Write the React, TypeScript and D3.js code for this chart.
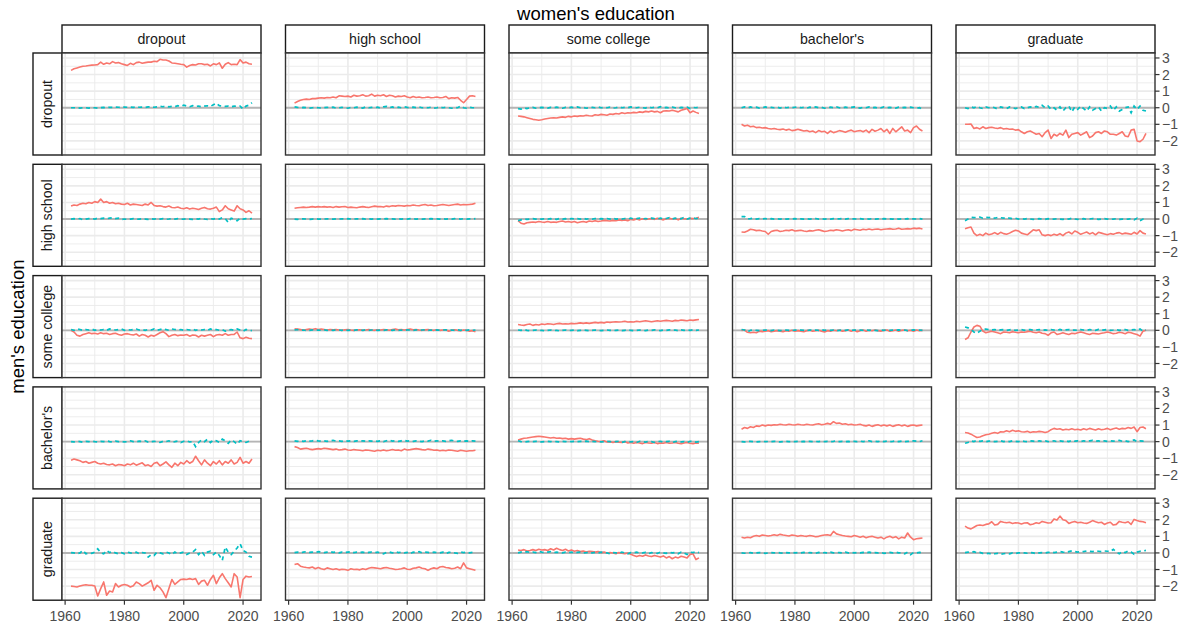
import React from 'react';
import * as d3 from 'd3';

const years = d3.range(1962, 2024);
const womenLevels = ['dropout', 'high school', 'some college', "bachelor's", 'graduate'];
const menLevels = ['dropout', 'high school', 'some college', "bachelor's", 'graduate'];
const xTicks = [1960, 1980, 2000, 2020];
const xMinor = [1970, 1990, 2010];
const yTicks = [-2, -1, 0, 1, 2, 3];
const yMinor = [-2.5, -1.5, -0.5, 0.5, 1.5, 2.5];

// Row 1: men dropout
const red_m1_w1 = [2.25,2.35,2.4,2.45,2.5,2.52,2.55,2.57,2.58,2.6,
 2.75,2.62,2.7,2.65,2.78,2.7,2.72,2.65,2.6,2.55,
 2.68,2.6,2.72,2.75,2.68,2.72,2.75,2.75,2.8,2.78,
 2.92,2.88,2.88,2.82,2.7,2.68,2.65,2.62,2.6,2.45,
 2.55,2.6,2.58,2.65,2.65,2.6,2.62,2.52,2.65,2.6,
 2.7,2.38,2.62,2.72,2.6,2.62,2.6,2.9,2.7,2.75,
 2.65,2.62];
const teal_m1_w1 = [0,0,0,-0.02,0,0,-0.02,0,0,-0.03,
 0,0.02,0,0.03,0.02,0.04,0.03,0.02,0.04,0.03,
 0.04,0.02,0.05,0.03,0.04,0.02,0.05,0.06,0.03,0.05,
 0.08,0.06,0.1,0.05,0.08,0.06,0.12,0.08,0.15,0.1,
 0.06,0.12,0.08,0.1,0.05,0.1,0.12,0.08,0.18,0.28,
 0.12,0.1,0.08,0.1,0.06,0.1,0.08,0.1,-0.08,0.1,
 0.15,0.3];
const red_m1_w2 = [0.28,0.38,0.45,0.5,0.52,0.5,0.55,0.55,0.58,0.6,
 0.58,0.62,0.6,0.65,0.6,0.72,0.7,0.68,0.7,0.65,
 0.75,0.7,0.72,0.78,0.7,0.72,0.82,0.7,0.75,0.72,
 0.78,0.68,0.75,0.72,0.65,0.7,0.68,0.72,0.65,0.6,
 0.68,0.62,0.65,0.6,0.62,0.65,0.6,0.62,0.65,0.6,
 0.62,0.68,0.55,0.6,0.58,0.62,0.45,0.3,0.5,0.7,
 0.72,0.68];
const teal_m1_w2 = [0.05,0.02,0,0.02,0,-0.02,0,0.02,0,-0.02,
 0,0.02,0,0.03,-0.02,0,0.02,0,-0.03,0.02,
 0,0.03,0,-0.02,0.05,0,0.02,0,0.03,-0.02,
 0.05,0.08,0,0.05,-0.02,0.03,0,0.05,0.02,0,
 0.03,0,0.05,0,0.02,0,0.03,-0.02,0,0.05,
 0,0.02,0,-0.03,0.02,0,0.1,0,-0.03,0.02,
 0,0];
const red_m1_w3 = [-0.5,-0.52,-0.55,-0.6,-0.65,-0.7,-0.72,-0.75,-0.72,-0.68,
 -0.65,-0.62,-0.6,-0.62,-0.58,-0.55,-0.58,-0.52,-0.55,-0.5,
 -0.52,-0.48,-0.5,-0.45,-0.48,-0.5,-0.42,-0.45,-0.4,-0.42,
 -0.45,-0.38,-0.4,-0.35,-0.38,-0.3,-0.35,-0.3,-0.32,-0.28,
 -0.3,-0.25,-0.28,-0.22,-0.25,-0.2,-0.25,-0.22,-0.3,-0.2,
 -0.18,-0.2,-0.15,-0.2,-0.25,-0.15,-0.1,-0.05,-0.3,-0.2,
 -0.28,-0.35];
const teal_m1_w3 = [-0.05,-0.08,0,-0.05,0,0.02,-0.03,0,0.02,0,
 -0.02,0.02,0,0.03,0,-0.03,0.02,0,0.03,0,
 0.05,0,0.02,-0.03,0,0.02,0,0.05,0,0.02,
 0,0.03,-0.02,0,0.05,0,0.02,0,0.05,0.02,
 0,0.03,0,-0.02,0.05,0,0.02,0,0.06,0,
 0.02,-0.02,0.03,0,-0.03,0.02,0,0.03,-0.05,0.02,
 0,0.03];
const red_m1_w4 = [-1.0,-1.1,-1.05,-1.15,-1.12,-1.2,-1.18,-1.22,-1.2,-1.25,
 -1.28,-1.25,-1.3,-1.32,-1.28,-1.35,-1.3,-1.38,-1.35,-1.3,
 -1.35,-1.4,-1.38,-1.45,-1.4,-1.5,-1.38,-1.45,-1.42,-1.55,
 -1.4,-1.5,-1.45,-1.38,-1.42,-1.48,-1.4,-1.35,-1.45,-1.4,
 -1.38,-1.45,-1.35,-1.5,-1.3,-1.42,-1.35,-1.25,-1.45,-1.3,
 -1.55,-1.25,-1.45,-1.3,-1.15,-1.4,-1.35,-1.5,-1.2,-1.1,
 -1.3,-1.4];
const teal_m1_w4 = [0,0.05,-0.02,0.05,0,0.03,-0.02,0,0.05,0,
 0.02,0,0.03,-0.02,0.05,0,0.02,0,0.03,0.05,
 0,0.02,-0.02,0.03,0,0.05,0,0.02,-0.03,0,
 0.03,0,0.05,0,-0.02,0.03,0,0.02,0.05,0,
 -0.02,0.03,0,0.05,0,0.02,-0.03,0,0.05,0,
 0.02,0,-0.02,0.03,0,0.02,0,0.03,0,-0.02,
 0,-0.1];
const red_m1_w5 = [-1.0,-1.0,-0.98,-1.25,-1.2,-1.28,-1.15,-1.25,-1.2,-1.18,
 -1.22,-1.25,-1.2,-1.28,-1.25,-1.3,-1.28,-1.35,-1.32,-1.45,
 -1.55,-1.45,-1.4,-1.5,-1.6,-1.55,-1.75,-1.5,-1.35,-1.85,
 -1.6,-1.7,-1.55,-1.65,-1.35,-1.8,-1.6,-1.55,-1.5,-1.65,
 -1.55,-1.45,-1.8,-1.7,-1.5,-1.45,-1.55,-1.4,-1.45,-1.6,
 -1.6,-1.65,-1.55,-1.45,-1.7,-1.75,-1.35,-1.3,-2.0,-2.05,
 -1.9,-1.55];
const teal_m1_w5 = [0,-0.05,0.05,0,0.08,0,-0.05,0.05,0,0.05,
 0,-0.08,0.05,0,-0.05,0.05,0,-0.05,0,0.05,
 -0.05,0,0.05,0,0.08,0.02,0.15,0,0.1,-0.1,
 0,-0.15,0.05,-0.2,0,0.1,-0.25,0.05,-0.1,0.1,
 -0.05,-0.2,0.05,-0.15,-0.05,0.05,-0.2,0,-0.05,0.1,
 -0.15,0.05,-0.2,-0.1,0,0.05,-0.3,0.1,-0.1,0.1,
 -0.15,-0.2];

// Row 2: men high school
const red_m2_w1 = [0.78,0.85,0.82,0.9,0.95,0.92,1.0,0.95,1.05,1.0,
 1.2,1.0,1.05,0.95,1.0,0.92,0.95,0.9,0.88,0.95,
 0.85,0.9,0.88,0.85,0.82,0.9,0.85,1.0,0.82,0.78,
 0.8,0.75,0.72,0.78,0.7,0.68,0.72,0.65,0.62,0.68,
 0.6,0.65,0.62,0.58,0.65,0.7,0.62,0.6,0.65,0.72,
 0.45,0.55,0.8,0.62,0.55,0.48,0.8,0.62,0.55,0.4,
 0.5,0.35];
const teal_m2_w1 = [0,0.02,0,0.03,-0.05,0,0.02,0.03,0,0.05,
 0.03,0.05,0.02,0.05,0.08,0.03,0.05,-0.03,0,-0.02,
 0,0.02,-0.02,0,0.02,0,-0.02,0.02,0,0.03,
 0,0.02,-0.02,0,0.03,0,0.02,-0.02,0,0.02,
 0,-0.02,0.02,0,0.05,0,-0.02,0.02,0,0.05,
 0,0.08,0.02,-0.2,0.05,0,-0.1,0.05,0,0.02,
 0,0.03];
const red_m2_w2 = [0.65,0.68,0.7,0.72,0.7,0.72,0.75,0.72,0.75,0.73,
 0.75,0.72,0.74,0.7,0.75,0.72,0.74,0.76,0.7,0.72,
 0.7,0.68,0.72,0.75,0.72,0.7,0.74,0.78,0.75,0.76,
 0.72,0.78,0.75,0.8,0.78,0.82,0.8,0.78,0.82,0.8,
 0.85,0.82,0.8,0.85,0.88,0.82,0.85,0.8,0.82,0.85,
 0.88,0.85,0.82,0.85,0.88,0.9,0.85,0.88,0.86,0.88,
 0.9,0.95];
const teal_m2_w2 = [0,-0.02,0,0.01,0,-0.02,0,0.01,0,-0.01,
 0,0.01,0,-0.01,0.01,0,0.01,0,0.02,0,
 0,0.01,0,0.02,0,0.01,0,0.02,0,0.01,
 0,0.02,0,0.01,0,0.02,0,0.01,0,0.02,
 0.01,0,0.02,0,0.01,0,0.02,0,0.01,0,
 0.02,0,0.01,0,0.02,0.01,0,0.02,0,0.01,
 0,0.02];
const red_m2_w3 = [-0.1,-0.25,-0.3,-0.22,-0.2,-0.18,-0.2,-0.15,-0.18,-0.2,
 -0.15,-0.2,-0.18,-0.2,-0.15,-0.12,-0.18,-0.15,-0.2,-0.15,
 -0.22,-0.18,-0.15,-0.2,-0.12,-0.15,-0.1,-0.15,-0.12,-0.08,
 -0.1,-0.12,-0.08,-0.1,-0.05,-0.08,-0.05,-0.1,-0.02,-0.05,
 0,-0.05,0.02,-0.03,0,0.03,-0.02,0.05,0,-0.05,
 0.02,0.05,0,0.03,-0.05,0.05,0.02,0,0.05,0.03,
 0.05,0.1];
const teal_m2_w3 = [-0.1,-0.05,0,-0.02,0,0.02,0,-0.02,0,0.02,
 0,0.02,0,-0.02,0.03,0,0.02,0,0.03,0,
 0.02,0,0.05,0,0.02,0,0.03,0,0.02,0,
 0.03,0,0.05,0,0.02,0,0.03,0,0.05,0,
 0.02,0.05,0,0.03,0,0.05,0.02,0,0.05,0,
 0.03,0.08,0,0.05,0,0.02,0.1,0,0.05,0.08,
 0.02,0.08];
const red_m2_w4 = [-0.78,-0.8,-0.72,-0.62,-0.65,-0.7,-0.68,-0.72,-0.75,-0.92,
 -0.75,-0.7,-0.68,-0.75,-0.72,-0.68,-0.7,-0.65,-0.72,-0.7,
 -0.68,-0.72,-0.75,-0.7,-0.72,-0.68,-0.65,-0.7,-0.75,-0.72,
 -0.68,-0.7,-0.65,-0.68,-0.72,-0.68,-0.65,-0.7,-0.62,-0.65,
 -0.68,-0.62,-0.65,-0.6,-0.65,-0.62,-0.6,-0.65,-0.62,-0.6,
 -0.58,-0.62,-0.6,-0.55,-0.62,-0.6,-0.58,-0.6,-0.55,-0.58,
 -0.55,-0.6];
const teal_m2_w4 = [0.15,0.15,0,0.02,0.05,0,0.02,0,0.03,0,
 0.02,0,0.01,0,0.02,0,0.01,0,0.02,0,
 0.01,0,0.02,0,0.01,0.03,0,0.02,0,0.01,
 0,0.02,0,0.01,0.03,0,0.02,0,0.01,0,
 0.02,0,0.01,0,0.02,0,0.01,0,0.02,0,
 0.01,0,0.02,0,0.01,0,0.02,0,0.01,0,
 0.02,0];
const red_m2_w5 = [-0.58,-0.52,-0.48,-0.85,-1.0,-0.92,-1.0,-0.85,-0.95,-0.9,
 -0.82,-0.92,-0.8,-0.88,-0.92,-0.85,-0.75,-0.68,-0.72,-0.85,
 -0.9,-0.95,-0.8,-0.65,-0.7,-0.65,-0.95,-1.0,-0.95,-1.0,
 -0.92,-0.98,-0.88,-1.0,-0.85,-0.78,-0.9,-0.72,-0.8,-0.92,
 -0.85,-0.78,-0.9,-0.82,-0.95,-0.8,-0.85,-0.9,-0.95,-0.88,
 -0.92,-0.85,-0.82,-0.9,-0.85,-0.88,-0.92,-0.8,-0.9,-0.7,
 -0.85,-0.9];
const teal_m2_w5 = [-0.1,0,0.1,0.08,0.1,0.12,0.05,0.1,0.08,0.12,
 0.05,0.1,0.08,0.05,0.1,0.05,0.02,0.05,0,0.02,
 0,0.03,0,-0.02,0,0.02,0,-0.02,0.02,0,
 0,0.02,0,-0.02,0.02,0,0.05,0,-0.02,0,
 0.02,-0.02,0,0.03,0,-0.02,0,0.02,0,-0.03,
 0,0.02,-0.02,0,-0.03,0,0.02,-0.05,0.05,-0.1,
 0,0.02];

// Row 3: men some college
const red_m3_w1 = [0,-0.1,-0.3,-0.35,-0.25,-0.2,-0.15,-0.2,-0.18,-0.22,
 -0.15,-0.2,-0.18,-0.25,-0.2,-0.18,-0.25,-0.3,-0.22,-0.2,
 -0.25,-0.28,-0.22,-0.35,-0.25,-0.3,-0.4,-0.3,-0.35,-0.25,
 -0.15,-0.08,-0.2,-0.38,-0.3,-0.25,-0.32,-0.28,-0.3,-0.25,
 -0.35,-0.28,-0.3,-0.4,-0.3,-0.35,-0.3,-0.25,-0.38,-0.28,
 -0.25,-0.3,-0.2,-0.3,-0.25,-0.25,-0.1,-0.45,-0.5,-0.42,
 -0.48,-0.5];
const teal_m3_w1 = [0.05,0,0.08,0.05,0,0.05,0.02,0.08,0,0.05,
 0.02,0.05,0,0.08,0.05,0.02,0.05,0.08,0,0.05,
 0.02,0.05,0.08,0.02,0.05,0,0.05,0.02,0.08,0,
 0.05,0.1,0.05,0,0.08,0.05,0.02,0.05,0,0.05,
 0.02,0.08,0,0.05,0.02,0.05,0,0.08,0.02,0.05,
 0,0.05,-0.05,0.02,0.05,0,0.08,0.02,-0.05,0.05,
 0,-0.02];
const red_m3_w2 = [0.1,0.08,0.05,0,0.05,0.08,0.05,0.1,0.05,0.08,
 0.05,0.02,0.05,0.03,0.05,0.02,0,0.03,0.05,0.02,
 0,0.02,0.03,0,0.02,0.05,0.02,0,0.03,0.02,
 0.05,0.03,0,0.05,0.08,0.03,0.05,0.02,0.05,0.08,
 0.03,0.05,0.02,0,0.03,0.05,0.02,0,0.03,0,
 0.02,0.03,-0.05,0,0.03,0,-0.02,0.02,0,-0.05,
 -0.02,-0.08];
const teal_m3_w2 = [0.02,0.05,0,0.02,-0.02,0,0.03,0,0.02,0,
 0.03,0,0.02,0,0.03,0.02,0,0.03,0,0.02,
 0,0.03,0.02,0,0.03,0,0.02,0.03,0,0.02,
 0,0.03,0.02,0,0.03,0,0.02,0,0.03,0.02,
 0,0.03,0,0.02,0.03,0,0.02,0,0.03,0,
 0.02,0.03,0,0.02,0,0.03,0,0.02,0,0.03,
 0,0.02];
const red_m3_w3 = [0.35,0.32,0.3,0.35,0.38,0.3,0.35,0.32,0.38,0.35,
 0.4,0.38,0.35,0.4,0.42,0.38,0.4,0.38,0.42,0.4,
 0.42,0.45,0.42,0.45,0.42,0.45,0.48,0.45,0.48,0.45,
 0.5,0.48,0.5,0.52,0.5,0.52,0.55,0.5,0.52,0.5,
 0.55,0.52,0.55,0.58,0.55,0.52,0.55,0.58,0.55,0.58,
 0.6,0.58,0.55,0.6,0.58,0.62,0.6,0.58,0.62,0.6,
 0.63,0.65];
const teal_m3_w3 = [0.02,0,0.05,0,-0.02,0,0.02,-0.02,0,-0.03,
 0,0.02,-0.02,0,-0.03,0,0.02,-0.02,0,0.02,
 -0.02,0,0.02,0,-0.02,0,0.02,0,-0.02,0,
 0.02,0,-0.02,0,0.02,-0.02,0,0.02,0,-0.02,
 0,0.02,0,-0.02,0.02,0,0.03,0,-0.02,0.02,
 0,0.03,0,0.02,-0.02,0.03,0,0.02,0,0.03,
 0,0.02];
const red_m3_w4 = [0,0.02,-0.12,-0.15,-0.12,-0.15,-0.05,-0.08,-0.05,-0.02,
 -0.08,-0.05,-0.02,-0.05,-0.08,-0.03,-0.05,0,-0.05,-0.02,
 -0.05,-0.08,-0.02,0,-0.05,-0.03,0,-0.05,-0.1,-0.02,
 -0.05,0,-0.03,0.02,-0.05,-0.02,0.02,-0.05,0,-0.08,
 -0.02,0.02,-0.05,0,-0.03,0.02,-0.02,-0.05,0,0.02,
 -0.05,-0.02,0.02,-0.05,0,0.02,-0.03,0,-0.05,0.02,
 -0.02,0];
const teal_m3_w4 = [0.05,0.02,-0.1,0,0.02,0,-0.02,0,0.02,0,
 -0.02,0.02,0,-0.02,0,0.02,0,-0.02,0.02,0,
 0.02,0,-0.02,0.02,0,0.02,0,0.03,0,0.02,
 0,0.02,-0.02,0,0.02,0,0.03,0,0.02,0,
 0.02,0,0.03,0,0.02,0,-0.02,0.02,0,0.03,
 0,0.02,0,0.03,0,0.02,-0.02,0,0.03,0,
 0.02,0];
const red_m3_w5 = [-0.55,-0.45,-0.1,0.2,0.3,0.25,-0.05,-0.15,-0.1,-0.05,
 -0.1,-0.15,-0.2,-0.1,-0.12,-0.15,-0.08,-0.12,-0.15,-0.1,
 -0.12,-0.08,-0.05,-0.12,-0.15,-0.1,-0.18,-0.2,-0.3,-0.15,
 -0.1,-0.25,-0.2,-0.15,-0.2,-0.25,-0.18,-0.2,-0.15,-0.1,
 -0.15,-0.2,-0.25,-0.18,-0.2,-0.22,-0.18,-0.15,-0.1,-0.15,
 -0.2,-0.18,-0.12,-0.15,-0.2,-0.12,-0.15,-0.2,-0.25,-0.35,
 -0.05,0];
const teal_m3_w5 = [0.2,0.15,0.05,-0.1,-0.18,-0.05,0.05,0.08,0.05,0.02,
 0.05,0,0.03,0.05,0,0.03,0.05,0,0.02,0.05,
 0,0.03,0.05,0,0.02,0.05,0,0.03,0,0.05,
 0.02,0,0.05,0,0.03,0.05,0,0.02,0,0.05,
 0.02,0,0.05,0.02,0,0.05,0,0.03,0.05,0,
 0.02,0.05,0,0.03,0.05,0,0.02,0.05,0,0.08,
 -0.05,0.02];

// Row 4: men bachelor's
const red_m4_w1 = [-1.12,-1.05,-1.1,-1.15,-1.25,-1.2,-1.3,-1.25,-1.2,-1.3,
 -1.35,-1.3,-1.38,-1.4,-1.35,-1.45,-1.38,-1.4,-1.45,-1.35,
 -1.4,-1.3,-1.42,-1.35,-1.28,-1.45,-1.4,-1.5,-1.3,-1.25,
 -1.45,-1.35,-1.22,-1.4,-1.55,-1.3,-1.45,-1.25,-1.35,-1.15,
 -1.3,-1.2,-0.88,-1.15,-1.4,-1.1,-1.3,-1.45,-1.2,-1.35,
 -1.15,-1.4,-1.2,-1.3,-1.1,-1.35,-1.25,-0.95,-1.3,-1.2,
 -1.3,-1.05];
const teal_m4_w1 = [0,-0.02,0.02,0,-0.03,0.02,0,0.03,0,-0.02,
 0.02,0,0.05,0,-0.02,0.03,0,0.02,-0.02,0,
 0.05,0,-0.02,0.03,0,0.05,-0.03,0,0.02,0,
 -0.05,0.02,0,0.05,-0.02,0,0.03,-0.05,0.02,0.05,
 -0.02,0,-0.3,-0.05,0.1,0,0.15,-0.05,0.1,0.05,
 -0.05,0.15,0.05,-0.1,0.1,0,-0.15,0.05,0,-0.05,
 0.02,0];
const red_m4_w2 = [-0.3,-0.35,-0.45,-0.42,-0.4,-0.45,-0.48,-0.45,-0.42,-0.45,
 -0.4,-0.42,-0.45,-0.48,-0.45,-0.5,-0.48,-0.45,-0.5,-0.52,
 -0.48,-0.5,-0.52,-0.55,-0.5,-0.52,-0.55,-0.58,-0.52,-0.55,
 -0.5,-0.55,-0.52,-0.48,-0.52,-0.5,-0.55,-0.45,-0.5,-0.48,
 -0.45,-0.42,-0.45,-0.48,-0.5,-0.45,-0.48,-0.52,-0.5,-0.55,
 -0.52,-0.55,-0.5,-0.52,-0.55,-0.58,-0.52,-0.55,-0.58,-0.55,
 -0.55,-0.52];
const teal_m4_w2 = [0.05,0.02,0.05,0.02,0.05,0.03,0.05,0.08,0.05,0.03,
 0.05,0.02,0.05,0.08,0.03,0.05,0.02,0.05,0.03,0.05,
 0.02,0.05,0.03,0.05,0.02,0.05,0.03,0.05,0.02,0.05,
 0,0.05,0.1,0.03,0.05,0.02,0.05,0.08,0.03,0.05,
 0.02,0.05,0.03,0,0.05,0.03,0.08,0.02,0.05,0.03,
 0.05,0.02,0.05,0.08,0.03,0.02,0.05,0.03,0.05,0.02,
 0.05,0.03];
const red_m4_w3 = [0.1,0.15,0.2,0.22,0.25,0.28,0.3,0.32,0.3,0.28,
 0.25,0.22,0.25,0.2,0.22,0.18,0.2,0.15,0.18,0.15,
 0.18,0.2,0.15,0.12,0.18,0.1,0.05,0.02,0,0.05,
 -0.02,0,-0.05,0,-0.03,-0.05,0,-0.08,-0.05,-0.1,
 -0.05,-0.08,-0.12,-0.05,-0.08,-0.1,-0.05,-0.12,-0.08,-0.1,
 -0.05,-0.1,-0.08,-0.05,-0.1,-0.12,-0.08,-0.05,-0.1,-0.12,
 -0.08,-0.1];
const teal_m4_w3 = [0.05,0,-0.02,0,0.02,0,0.02,0,-0.02,0,
 0.02,0,0.02,0,-0.02,0.02,0,0.02,0,0.02,
 0,0.02,0,0.03,0,0.02,0,0.02,-0.02,0,
 0.02,0,-0.02,0,0.02,-0.05,0,0.02,-0.02,0,
 -0.05,0.02,0,-0.03,0.02,0,-0.05,0,0.02,-0.03,
 0,0.02,-0.05,0,0.02,-0.02,0,-0.05,0.02,0,
 -0.03,0];
const red_m4_w4 = [0.75,0.85,0.8,0.9,0.85,0.95,0.92,1.0,0.95,1.0,
 0.98,1.02,1.0,1.05,1.02,1.0,1.05,1.02,1.0,1.05,
 1.02,1.0,1.05,1.02,1.0,1.05,1.08,1.02,1.05,1.1,
 1.05,1.2,1.1,1.12,1.05,1.08,1.02,1.05,1.0,1.02,
 1.05,0.98,0.95,1.0,0.92,0.98,1.02,0.95,1.0,0.95,
 1.0,0.92,0.98,1.02,0.95,1.0,0.92,0.98,1.0,0.95,
 0.98,1.0];
const teal_m4_w4 = [0,-0.02,0,0.02,0,-0.02,0,0.02,0,0.01,
 0,0.02,0,-0.02,0,0.02,0,0.01,0,0.02,
 0,0.01,0,0.02,0,0.01,0,0.02,0,0.01,
 0,0.02,0.05,0,0.02,0,0.01,0,0.02,0,
 0.03,0,0.02,0.05,0,0.02,0,0.05,0,0.03,
 0,0.02,0.05,0,0.03,0,0.02,0,0.05,0.03,
 0,0.05];
const red_m4_w5 = [0.55,0.52,0.45,0.35,0.25,0.28,0.35,0.42,0.45,0.5,
 0.55,0.5,0.6,0.58,0.65,0.6,0.68,0.62,0.65,0.6,
 0.58,0.62,0.55,0.6,0.58,0.62,0.6,0.55,0.6,0.72,
 0.8,0.75,0.78,0.7,0.75,0.72,0.78,0.72,0.75,0.7,
 0.78,0.72,0.8,0.75,0.7,0.78,0.72,0.75,0.8,0.72,
 0.78,0.82,0.75,0.8,0.78,0.85,0.8,0.88,0.6,0.85,
 0.88,0.78];
const teal_m4_w5 = [-0.1,-0.05,0.05,0,0.08,0.02,0.05,0,0.03,0.05,
 0,0.02,0.05,0,0.03,0,0.05,0.02,0,0.05,
 0.02,0,0.05,0.03,0,0.05,0.02,0.05,0,0.03,
 0.05,0,0.05,0.02,0.05,0,0.08,0.03,0.05,0,
 0.05,0.02,0.05,0.08,0.03,0.05,0,0.05,0.02,0.05,
 0.03,0.05,0.08,0.02,0.05,0,0.05,0.1,0,0.05,
 0.03,0.05];

// Row 5: men graduate
const red_m5_w1 = [-2.0,-2.02,-2.05,-2.0,-1.95,-1.92,-1.95,-1.95,-2.0,-2.6,
 -2.15,-1.75,-2.55,-2.3,-2.35,-1.85,-2.05,-1.95,-1.9,-1.95,
 -2.05,-1.98,-1.75,-1.85,-2.0,-1.9,-1.8,-1.65,-2.25,-1.95,
 -2.1,-2.35,-2.7,-2.15,-1.6,-1.9,-1.75,-1.6,-1.58,-1.6,
 -1.55,-1.6,-1.55,-1.9,-1.7,-1.65,-1.95,-1.6,-1.35,-1.85,
 -1.5,-1.25,-1.55,-1.8,-2.05,-1.25,-1.45,-2.7,-1.6,-1.4,
 -1.45,-1.42];
const teal_m5_w1 = [0.02,0,-0.05,0,0.15,-0.05,0,-0.02,0.05,0.25,
 0,-0.05,0.15,0.02,0.1,0,-0.05,0.02,-0.05,0.05,
 0,-0.02,0.05,-0.05,0.02,0,-0.25,-0.1,-0.15,0.05,
 0,-0.05,0.05,0,-0.1,0.05,-0.05,0,0.05,-0.1,
 0,0.05,0.2,-0.1,0.1,-0.15,0.05,0.1,-0.1,0.05,
 -0.15,-0.45,0.35,0.05,-0.1,0.1,0.3,0.55,0.15,0.05,
 -0.2,-0.25];
const red_m5_w2 = [-0.7,-0.65,-0.8,-0.85,-0.88,-0.9,-0.85,-0.95,-0.88,-0.95,
 -1.0,-0.9,-0.95,-1.0,-0.95,-1.02,-0.98,-1.0,-1.05,-0.95,
 -1.0,-0.98,-1.02,-0.95,-1.0,-0.92,-0.88,-0.9,-0.92,-0.95,
 -0.9,-0.88,-0.92,-0.95,-1.0,-0.98,-0.95,-0.9,-0.98,-1.0,
 -0.92,-0.9,-0.85,-0.92,-0.95,-1.05,-0.95,-0.9,-0.95,-0.85,
 -0.82,-0.88,-0.9,-0.95,-0.92,-0.85,-0.95,-0.6,-0.9,-0.95,
 -1.0,-1.05];
const teal_m5_w2 = [0.02,0.05,0,0.05,0.08,0.03,0.05,0.02,0.08,0.05,
 0.02,0.05,0.08,0.03,0.05,0,0.05,0.02,0.05,0.08,
 0.02,0.05,0.03,0.05,0,0.03,0.05,0.02,0.05,0,
 -0.05,0.03,0.05,0,0.08,0.02,0.05,0,0.03,-0.05,
 0.05,0.02,0.08,0,0.05,0.03,0,0.05,0.02,0,
 0.05,-0.05,0.03,0.05,0,-0.02,0.05,0.02,0.05,0,
 0.03,0.05];
const red_m5_w3 = [0.18,0.15,0.2,0.12,0.15,0.2,0.15,0.22,0.18,0.2,
 0.15,0.25,0.18,0.28,0.2,0.15,0.22,0.12,0.18,0.1,
 0.15,0.08,0.12,0.05,0.1,0.08,0.05,0.08,0.02,0.05,
 0,0.03,0,-0.05,0.02,-0.02,-0.05,0,-0.08,-0.15,
 -0.22,-0.15,-0.2,-0.12,-0.18,-0.22,-0.15,-0.2,-0.25,-0.18,
 -0.3,-0.22,-0.35,-0.25,-0.3,-0.2,-0.25,-0.3,-0.1,-0.05,
 -0.4,-0.3];
const teal_m5_w3 = [0,0.05,0.02,0.08,0.03,0.05,0.02,0.1,0.05,0.02,
 0.05,0.08,0.02,0.05,0.03,0,0.05,0.02,0.05,0,
 0.03,0.05,0,0.02,0.05,0,0.03,0,0.05,0.02,
 0,-0.05,0.02,0,-0.03,0.05,0,-0.05,0.02,0,
 0.05,-0.02,0,0.03,-0.05,0.02,0,-0.03,0.05,0,
 -0.02,0.05,0,0.03,-0.05,0.05,0,-0.1,0.05,0.02,
 0.08,0.02];
const red_m5_w4 = [0.95,0.9,0.95,0.92,1.0,1.05,1.0,1.08,1.05,1.02,
 1.05,1.1,1.05,1.12,1.08,1.05,1.02,1.08,1.05,1.0,
 1.05,1.02,1.0,1.05,1.02,0.98,1.0,1.05,1.08,1.1,
 1.05,1.3,1.15,1.1,1.05,1.02,1.0,0.98,1.05,1.0,
 0.95,1.0,0.92,0.98,1.0,0.95,0.9,0.95,0.85,0.95,
 1.0,0.92,0.98,0.85,0.95,0.9,1.2,0.95,0.8,0.85,
 0.88,0.9];
const teal_m5_w4 = [0,-0.02,0,0.02,-0.02,0,0.02,0,-0.03,0,
 0.02,0,0.03,0,-0.02,0.02,0,0.03,0,0.02,
 0,0.03,0,0.02,0,-0.02,0.03,0,0.02,0,
 0.05,0,0.03,0.02,0,0.05,0,0.03,0,0.02,
 0,0.03,0,0.05,0,0.02,0,0.03,-0.02,0,
 0.03,0,0.05,0,0.02,-0.05,0.05,-0.1,0.02,0,
 0.03,0];
const red_m5_w5 = [1.62,1.5,1.45,1.55,1.65,1.68,1.65,1.72,1.75,1.88,
 1.68,1.72,1.9,1.85,1.82,1.85,1.78,1.82,1.8,1.75,
 1.8,1.82,1.7,1.75,1.82,1.78,1.9,1.85,1.8,1.82,
 2.05,1.98,2.22,2.0,1.95,1.78,1.85,1.9,1.82,1.85,
 1.8,1.78,1.85,1.95,1.88,1.82,1.85,1.72,1.8,1.85,
 1.68,1.72,1.9,1.85,1.82,1.88,1.72,2.02,1.95,1.9,
 1.88,1.82];
const teal_m5_w5 = [0.02,0.05,0.02,0.08,0,0.03,-0.03,-0.05,-0.02,-0.08,
 -0.05,-0.03,-0.08,-0.05,-0.02,-0.05,0,-0.03,0,0.02,
 0,-0.02,0.02,0,-0.05,0,0.02,0,0.03,0.05,
 0.02,0.05,0.08,0.05,0.03,0.08,0.12,0.08,0.05,0.1,
 0.08,0.12,0.1,0.08,0.12,0.1,0.08,0.12,0.1,0.08,
 0.22,0.05,-0.05,0.08,0.02,0.12,0.05,-0.08,0.05,0.1,
 0.12,0.15];

const redGrid = [
  [red_m1_w1, red_m1_w2, red_m1_w3, red_m1_w4, red_m1_w5],
  [red_m2_w1, red_m2_w2, red_m2_w3, red_m2_w4, red_m2_w5],
  [red_m3_w1, red_m3_w2, red_m3_w3, red_m3_w4, red_m3_w5],
  [red_m4_w1, red_m4_w2, red_m4_w3, red_m4_w4, red_m4_w5],
  [red_m5_w1, red_m5_w2, red_m5_w3, red_m5_w4, red_m5_w5],
];
const tealGrid = [
  [teal_m1_w1, teal_m1_w2, teal_m1_w3, teal_m1_w4, teal_m1_w5],
  [teal_m2_w1, teal_m2_w2, teal_m2_w3, teal_m2_w4, teal_m2_w5],
  [teal_m3_w1, teal_m3_w2, teal_m3_w3, teal_m3_w4, teal_m3_w5],
  [teal_m4_w1, teal_m4_w2, teal_m4_w3, teal_m4_w4, teal_m4_w5],
  [teal_m5_w1, teal_m5_w2, teal_m5_w3, teal_m5_w4, teal_m5_w5],
];

const FONT = '"Liberation Sans", Arial, Helvetica, sans-serif';
const fmt = (v: number) => (v < 0 ? '\u2212' + Math.abs(v) : String(v));

export default function App() {
  const W = 1190, H = 628;
  const panelW = 199, panelH = 102;
  const left0 = 62, colStep = 223.5;
  const top0 = 53, rowStep = 111.3;
  const stripH = 28, stripW = 29;

  const x = d3.scaleLinear().domain([1958.95, 2026.05]).range([0, panelW]);
  const y = d3.scaleLinear().domain([-2.85, 3.3]).range([panelH, 0]);
  const line = d3.line<number>().x((_, i) => x(years[i])).y((d) => y(d));

  const lastCol = womenLevels.length - 1;
  const lastRow = menLevels.length - 1;

  return (
    <svg width={W} height={H} style={{ position: 'absolute', left: 0, top: 0, background: '#fff' }} fontFamily={FONT}>
      <rect x={0} y={0} width={W} height={H} fill="#fff" />
      <text x={596} y={20} textAnchor="middle" fontSize={18.5} fill="#000">women's education</text>
      <text transform={`translate(24,${top0 + (rowStep * 4 + panelH) / 2}) rotate(-90)`} textAnchor="middle" fontSize={18.5} fill="#000">men's education</text>

      {womenLevels.map((w, ci) => (
        <g key={'cs' + ci} transform={`translate(${left0 + ci * colStep},${top0 - stripH})`}>
          <rect x={0} y={0} width={panelW} height={stripH} fill="#fff" stroke="#1a1a1a" strokeWidth={1.4} />
          <text x={panelW / 2} y={stripH / 2} dy="0.35em" textAnchor="middle" fontSize={14.2} fill="#1a1a1a">{w}</text>
        </g>
      ))}
      {menLevels.map((m, ri) => (
        <g key={'rs' + ri} transform={`translate(${left0 - stripW},${top0 + ri * rowStep})`}>
          <rect x={0} y={0} width={stripW} height={panelH} fill="#fff" stroke="#1a1a1a" strokeWidth={1.4} />
          <text transform={`translate(${stripW / 2},${panelH / 2}) rotate(-90)`} dy="0.35em" textAnchor="middle" fontSize={14.2} fill="#1a1a1a">{m}</text>
        </g>
      ))}

      {menLevels.map((m, ri) =>
        womenLevels.map((w, ci) => (
          <g key={`p${ri}-${ci}`} transform={`translate(${left0 + ci * colStep},${top0 + ri * rowStep})`}>
            <rect x={0} y={0} width={panelW} height={panelH} fill="#fff" />
            {yMinor.map((v) => (
              <line key={'ym' + v} x1={0} x2={panelW} y1={y(v)} y2={y(v)} stroke="#ebebeb" strokeWidth={0.9} />
            ))}
            {xMinor.map((v) => (
              <line key={'xm' + v} x1={x(v)} x2={x(v)} y1={0} y2={panelH} stroke="#ebebeb" strokeWidth={0.9} />
            ))}
            {yTicks.map((v) => (
              <line key={'yM' + v} x1={0} x2={panelW} y1={y(v)} y2={y(v)} stroke="#ebebeb" strokeWidth={1.6} />
            ))}
            {xTicks.map((v) => (
              <line key={'xM' + v} x1={x(v)} x2={x(v)} y1={0} y2={panelH} stroke="#ebebeb" strokeWidth={1.6} />
            ))}
            <line x1={0} x2={panelW} y1={y(0)} y2={y(0)} stroke="#b5b5b5" strokeWidth={1.9} />
            <path d={line(redGrid[ri][ci]) || ''} fill="none" stroke="#F8766D" strokeWidth={1.6} strokeLinejoin="round" />
            <path d={line(tealGrid[ri][ci]) || ''} fill="none" stroke="#00BFC4" strokeWidth={1.7} strokeDasharray="4,3.5" />
            <rect x={0} y={0} width={panelW} height={panelH} fill="none" stroke="#333333" strokeWidth={1.4} />
            {ci === lastCol &&
              yTicks.map((v) => (
                <g key={'ra' + v}>
                  <line x1={panelW} x2={panelW + 4.5} y1={y(v)} y2={y(v)} stroke="#333333" strokeWidth={1.2} />
                  <text x={panelW + 7} y={y(v)} dy="0.36em" fontSize={14} fill="#4d4d4d">{fmt(v)}</text>
                </g>
              ))}
            {ri === lastRow &&
              xTicks.map((v) => (
                <g key={'ba' + v}>
                  <line x1={x(v)} x2={x(v)} y1={panelH} y2={panelH + 4.5} stroke="#333333" strokeWidth={1.2} />
                  <text x={x(v)} y={panelH + 16} dy="0.36em" textAnchor="middle" fontSize={14} fill="#4d4d4d">{v}</text>
                </g>
              ))}
          </g>
        ))
      )}
    </svg>
  );
}
